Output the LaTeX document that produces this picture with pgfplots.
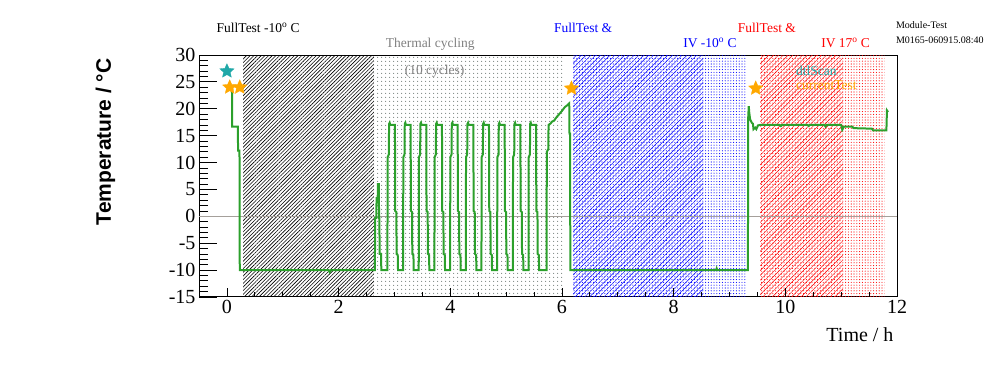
\documentclass[border=0pt]{standalone}
\usepackage{fontspec}
\setmainfont{Liberation Serif}
\newfontfamily\arialfont{Liberation Sans}
\usepackage{pgfplots}
\pgfplotsset{compat=1.18}
\usetikzlibrary{patterns.meta}
\definecolor{rgreen}{RGB}{44,160,44}
\definecolor{rteal}{RGB}{32,168,168}
\definecolor{rorange}{RGB}{255,168,0}
\definecolor{rgrayt}{RGB}{128,128,128}
\definecolor{zline}{RGB}{165,160,155}
\definecolor{dotgray}{RGB}{125,135,130}
\pgfdeclareplotmark{fstar}{%
  \pgfpathmoveto{\pgfpointpolar{90}{\pgfplotmarksize}}%
  \pgfpathlineto{\pgfpointpolar{126}{0.47*\pgfplotmarksize}}%
  \pgfpathlineto{\pgfpointpolar{162}{\pgfplotmarksize}}%
  \pgfpathlineto{\pgfpointpolar{198}{0.47*\pgfplotmarksize}}%
  \pgfpathlineto{\pgfpointpolar{234}{\pgfplotmarksize}}%
  \pgfpathlineto{\pgfpointpolar{270}{0.47*\pgfplotmarksize}}%
  \pgfpathlineto{\pgfpointpolar{306}{\pgfplotmarksize}}%
  \pgfpathlineto{\pgfpointpolar{342}{0.47*\pgfplotmarksize}}%
  \pgfpathlineto{\pgfpointpolar{18}{\pgfplotmarksize}}%
  \pgfpathlineto{\pgfpointpolar{54}{0.47*\pgfplotmarksize}}%
  \pgfpathclose\pgfusepathqfillstroke}
\begin{document}
\begin{tikzpicture}
\useasboundingbox (0,0) rectangle (996bp,372bp);
\begin{axis}[
  at={(199bp,75bp)}, anchor=south west,
  scale only axis, width=698bp, height=242bp,
  xmin=-0.5, xmax=12, ymin=-15, ymax=30,
  axis line style={line width=1bp},
  xtick=\empty,
  ytick={-15,-10,-5,0,5,10,15,20,25,30},
  yticklabels={-15,-10,-5,0,5,10,15,20,25,30},
  minor y tick num=4,
  ytick pos=left,
  tick align=inside,
  major tick length=18bp, minor tick length=9bp,
  tick style={black, line width=0.8bp},
  yticklabel style={font=\fontsize{20bp}{24bp}\selectfont},
  ylabel={Temperature / °C},
  ylabel style={font=\arialfont\bfseries\fontsize{21bp}{25bp}\selectfont,
    at={([xshift=-88bp]rel axis cs:0,1)}, anchor=base east},
  clip mode=individual,
]
% test periods (hatched areas)
\addplot[draw=none, pattern={Lines[angle=45,distance=2.6bp,line width=0.6bp]}, pattern color=black]
  coordinates {(0.29,-15) (0.29,30) (2.63,30) (2.63,-15)} -- cycle;
\addplot[draw=none, pattern={Dots[distance=3.6bp,radius=0.6bp]}, pattern color=dotgray]
  coordinates {(2.63,-15) (2.63,30) (6.05,30) (6.05,-15)} -- cycle;
\addplot[draw=none, pattern={Dots[distance=2.8bp,radius=0.55bp]}, pattern color=blue]
  coordinates {(6.2,-15) (6.2,30) (9.31,30) (9.31,-15)} -- cycle;
\addplot[draw=none, pattern={Lines[angle=45,distance=3.4bp,line width=0.45bp]}, pattern color=blue]
  coordinates {(6.2,-15) (6.2,30) (8.53,30) (8.53,-15)} -- cycle;
\addplot[draw=none, pattern={Dots[distance=2.8bp,radius=0.55bp]}, pattern color=red]
  coordinates {(9.55,-15) (9.55,30) (11.78,30) (11.78,-15)} -- cycle;
\addplot[draw=none, pattern={Lines[angle=45,distance=3.4bp,line width=0.45bp]}, pattern color=red]
  coordinates {(9.55,-15) (9.55,30) (11.03,30) (11.03,-15)} -- cycle;
% zero line
\addplot[zline, line width=0.9bp] coordinates {(-0.5,0) (12,0)};
% temperature
\addplot[rgreen, line width=2bp] coordinates {
(0.09,24.4) (0.095,16.7) (0.195,16.7) (0.2,12.2) (0.225,12.2) (0.23,-10)
(1.82,-10) (1.84,-10.4) (1.86,-10) (2.65,-10)
(2.655,-0.3) (2.675,-0.3) (2.68,3.4) (2.70,3.4) (2.705,6.0) (2.72,6.0) (2.725,-0.3) (2.73,-0.3) (2.735,-7) (2.76,-7) (2.765,-10)
(2.874,-10) (2.878,11) (2.899,11.5) (2.904,17.2) (2.914,17.4) (2.924,17) (3.009,17) (3.014,1) (3.034,0.8) (3.039,-7) (3.059,-7.2) (3.064,-10)
(3.155,-10) (3.159,11) (3.180,11.5) (3.185,17.2) (3.195,17.4) (3.205,17) (3.290,17) (3.295,1) (3.315,0.8) (3.320,-7) (3.340,-7.2) (3.345,-10)
(3.435,-10) (3.439,11) (3.460,11.5) (3.465,17.2) (3.475,17.4) (3.485,17) (3.570,17) (3.575,1) (3.595,0.8) (3.600,-7) (3.620,-7.2) (3.625,-10)
(3.716,-10) (3.720,11) (3.741,11.5) (3.746,17.2) (3.756,17.4) (3.766,17) (3.851,17) (3.856,1) (3.876,0.8) (3.881,-7) (3.901,-7.2) (3.906,-10)
(3.997,-10) (4.001,11) (4.022,11.5) (4.027,17.2) (4.037,17.4) (4.047,17) (4.132,17) (4.137,1) (4.157,0.8) (4.162,-7) (4.182,-7.2) (4.187,-10)
(4.278,-10) (4.282,11) (4.303,11.5) (4.308,17.2) (4.318,17.4) (4.328,17) (4.413,17) (4.418,1) (4.438,0.8) (4.443,-7) (4.463,-7.2) (4.468,-10)
(4.558,-10) (4.562,11) (4.583,11.5) (4.588,17.2) (4.598,17.4) (4.608,17) (4.693,17) (4.698,1) (4.718,0.8) (4.723,-7) (4.743,-7.2) (4.748,-10)
(4.839,-10) (4.843,11) (4.864,11.5) (4.869,17.2) (4.879,17.4) (4.889,17) (4.974,17) (4.979,1) (4.999,0.8) (5.004,-7) (5.024,-7.2) (5.029,-10)
(5.120,-10) (5.124,11) (5.145,11.5) (5.150,17.2) (5.160,17.4) (5.170,17) (5.255,17) (5.260,1) (5.280,0.8) (5.285,-7) (5.305,-7.2) (5.310,-10)
(5.401,-10) (5.405,11) (5.426,11.5) (5.431,17.2) (5.441,17.4) (5.451,17) (5.536,17) (5.541,1) (5.561,0.8) (5.566,-7) (5.586,-7.2) (5.591,-10)
(5.724,-10) (5.729,12) (5.755,12.5) (5.76,17) (5.80,17.3) (5.82,17.6) (5.86,17.8) (5.90,18.4) (5.95,19) (6.00,19.6) (6.05,20.3) (6.10,20.7) (6.13,21)
(6.135,15.4) (6.145,15.4) (6.15,-10)
(8.76,-10) (8.77,-9.7) (8.78,-10) (9.33,-10)
(9.335,18.3) (9.345,20.5) (9.355,19.2) (9.37,18) (9.40,17.4) (9.42,17.2) (9.43,16.2) (9.46,16.5) (9.48,16.2) (9.51,16.9) (9.55,17)
(9.9,17) (9.92,16.8) (9.94,17) (10.4,17) (10.42,16.8) (10.44,17) (10.7,17) (10.72,16.7) (10.74,17) (11.0,17)
(11.02,16.1) (11.05,16.7) (11.2,16.7) (11.22,16.4) (11.55,16.3) (11.57,16.0) (11.81,16.0) (11.82,19.7) (11.84,19.4)
};
% test markers
\addplot[only marks, mark=fstar, mark size=7.5bp, draw=rteal, fill=rteal, line width=0.3bp] coordinates {(0,27.0)};
\addplot[only marks, mark=fstar, mark size=7.5bp, draw=rorange, fill=rorange, line width=0.3bp] coordinates {(0.05,24) (0.23,24) (6.17,23.8) (9.47,23.8)};
% annotations
\node[anchor=base, font=\fontsize{13.5bp}{16bp}\selectfont] at (axis cs:0.56,34.15) {FullTest -10\textsuperscript{o} C};
\node[anchor=base, text=rgrayt, font=\fontsize{13.5bp}{16bp}\selectfont] at (axis cs:3.64,31.4) {Thermal cycling};
\node[anchor=base, text=rgrayt, font=\fontsize{13.5bp}{16bp}\selectfont] at (axis cs:3.72,26.41) {(10 cycles)};
\node[anchor=base, text=blue, font=\fontsize{13.5bp}{16bp}\selectfont] at (axis cs:6.38,34.15) {FullTest \&};
\node[anchor=base, text=blue, font=\fontsize{13.5bp}{16bp}\selectfont] at (axis cs:8.65,31.4) {IV -10\textsuperscript{o} C};
\node[anchor=base, text=red, font=\fontsize{13.5bp}{16bp}\selectfont] at (axis cs:9.67,34.15) {FullTest \&};
\node[anchor=base, text=red, font=\fontsize{13.5bp}{16bp}\selectfont] at (axis cs:11.08,31.4) {IV 17\textsuperscript{o} C};
\node[anchor=base west, inner sep=0pt, text=rteal, font=\fontsize{13.5bp}{16bp}\selectfont] at (axis cs:10.19,26.28) {dtlScan};
\node[anchor=base west, inner sep=0pt, text=rorange, font=\fontsize{13.5bp}{16bp}\selectfont] at (axis cs:10.19,23.62) {currentTest};
\node[anchor=base west, inner sep=0pt, font=\fontsize{10bp}{12bp}\selectfont] at (axis cs:11.98,34.96) {Module-Test};
\node[anchor=base west, inner sep=0pt, font=\fontsize{10bp}{12bp}\selectfont] at (axis cs:11.98,32.18) {M0165-060915.08:40};
\end{axis}
\begin{axis}[
  at={(199bp,75bp)}, anchor=south west,
  scale only axis, width=698bp, height=242bp,
  xmin=-0.5, xmax=12, ymin=-15, ymax=30,
  axis line style={draw=none},
  ytick=\empty,
  xtick={0,2,4,6,8,10,12}, xticklabels={0,2,4,6,8,10,12},
  minor x tick num=3,
  xtick pos=bottom,
  tick align=inside,
  major tick length=9bp, minor tick length=5bp,
  tick style={black, line width=0.8bp},
  xticklabel style={font=\fontsize{20bp}{24bp}\selectfont},
  xlabel={Time / h},
  xlabel style={font=\fontsize{20bp}{24bp}\selectfont,
    at={([yshift=-44.7bp]rel axis cs:1,0)}, anchor=base east},
]
\end{axis}
\end{tikzpicture}
\end{document}
